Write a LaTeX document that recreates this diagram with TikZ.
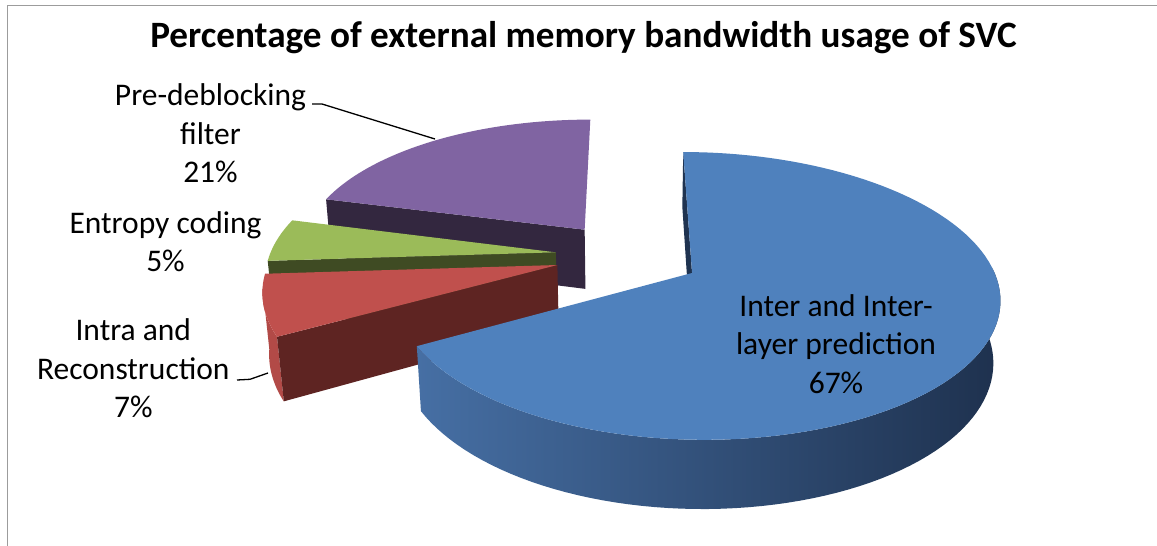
\documentclass[tikz,border=0pt]{standalone}
\usepackage{fontspec}
\setmainfont{Carlito}
\definecolor{bluetop}{HTML}{4F81BD}
\definecolor{blueL}{HTML}{466FA4}
\definecolor{blueR}{HTML}{1E314E}
\definecolor{bluedark}{HTML}{1F3350}
\definecolor{redtop}{HTML}{C0504D}
\definecolor{redrim}{HTML}{B24A47}
\definecolor{redside}{HTML}{5E2422}
\definecolor{greentop}{HTML}{9BBB59}
\definecolor{greenside}{HTML}{3F4B23}
\definecolor{purpletop}{HTML}{8064A2}
\definecolor{purpleside}{HTML}{33273F}
\definecolor{framegray}{HTML}{9C9C9C}
\begin{document}
\begin{tikzpicture}[x=1pt,y=1pt,
  % perspective projection of a point (X,Y,Z) of the pie onto the page
  declare function={
    pden(\ua,\ub,\uc)=5.713+0.8926*\ub-0.4507*\uc;
    psx(\ua,\ub,\uc)=1707.8*\ua/pden(\ua,\ub,\uc);
    imx(\ua,\ub,\uc)=627.9+0.975*psx(\ua,\ub,\uc)+0.39*(psx(\ua,\ub,\uc)/100)^2;
    imy(\ua,\ub,\uc)=(769.7*\ub+1524.4*\uc)/pden(\ua,\ub,\uc)-255.5;
    rimx(\ua,\ub,\uc,\ud)=imx(\ua+cos(\uc),\ub+sin(\uc),\ud);
    rimy(\ua,\ub,\uc,\ud)=imy(\ua+cos(\uc),\ub+sin(\uc),\ud);
  },
  lbl/.style={font=\fontsize{31.5}{38.3}\selectfont, align=center, inner sep=0pt},
  ttl/.style={font=\bfseries\fontsize{37.2}{44}\selectfont, inner sep=0pt},
  leader/.style={draw=black, line width=1.3pt},
  frameline/.style={draw=framegray, line width=1.8pt},
]
\useasboundingbox (0,0) rectangle (1157,-546);
\fill[white] (0,0) rectangle (1157,-546);
\draw[frameline] (7.5,-546) -- (7.5,-5.5) -- (1157,-5.5);

% slice offsets (exploded by a quarter radius along each bisector)
\def\hh{-0.231}
\pgfmathsetmacro\pPx{0.25*cos(127.8)}
\pgfmathsetmacro\pPy{0.25*sin(127.8)}
\pgfmathsetmacro\gGx{0.25*cos(174.6)}
\pgfmathsetmacro\gGy{0.25*sin(174.6)}
\pgfmathsetmacro\rRx{0.25*cos(196.2)}
\pgfmathsetmacro\rRy{0.25*sin(196.2)}
\pgfmathsetmacro\bBx{0.25*cos(-30.6)}
\pgfmathsetmacro\bBy{0.25*sin(-30.6)}

% ---- Pre-deblocking filter (21%)
\fill[purpleside] ({imx(\pPx,\pPy,0)},{imy(\pPx,\pPy,0)})
  -- ({rimx(\pPx,\pPy,165.6,0)},{rimy(\pPx,\pPy,165.6,0)})
  -- ({rimx(\pPx,\pPy,165.6,\hh)},{rimy(\pPx,\pPy,165.6,\hh)})
  -- ({imx(\pPx,\pPy,\hh)},{imy(\pPx,\pPy,\hh)}) -- cycle;
\fill[purpletop] ({imx(\pPx,\pPy,0)},{imy(\pPx,\pPy,0)})
  -- plot[domain=165.6:90,samples=40,variable=\t]
     ({rimx(\pPx,\pPy,\t,0)},{rimy(\pPx,\pPy,\t,0)}) -- cycle;

% ---- Entropy coding (5%)
\fill[greenside] ({imx(\gGx,\gGy,0)},{imy(\gGx,\gGy,0)})
  -- ({rimx(\gGx,\gGy,183.6,0)},{rimy(\gGx,\gGy,183.6,0)})
  -- ({rimx(\gGx,\gGy,183.6,\hh)},{rimy(\gGx,\gGy,183.6,\hh)})
  -- ({imx(\gGx,\gGy,\hh)},{imy(\gGx,\gGy,\hh)}) -- cycle;
\fill[greentop] ({imx(\gGx,\gGy,0)},{imy(\gGx,\gGy,0)})
  -- plot[domain=183.6:165.6,samples=20,variable=\t]
     ({rimx(\gGx,\gGy,\t,0)},{rimy(\gGx,\gGy,\t,0)}) -- cycle;

% ---- Intra and Reconstruction (7%)
\fill[redrim] plot[domain=189:208.8,samples=20,variable=\t]
     ({rimx(\rRx,\rRy,\t,0)},{rimy(\rRx,\rRy,\t,0)})
  -- plot[domain=208.8:189,samples=20,variable=\t]
     ({rimx(\rRx,\rRy,\t,\hh)},{rimy(\rRx,\rRy,\t,\hh)}) -- cycle;
\fill[redside] ({imx(\rRx,\rRy,0)},{imy(\rRx,\rRy,0)})
  -- ({rimx(\rRx,\rRy,208.8,0)},{rimy(\rRx,\rRy,208.8,0)})
  -- ({rimx(\rRx,\rRy,208.8,\hh)},{rimy(\rRx,\rRy,208.8,\hh)})
  -- ({imx(\rRx,\rRy,\hh)},{imy(\rRx,\rRy,\hh)}) -- cycle;
\fill[redtop] ({imx(\rRx,\rRy,0)},{imy(\rRx,\rRy,0)})
  -- plot[domain=208.8:183.6,samples=20,variable=\t]
     ({rimx(\rRx,\rRy,\t,0)},{rimy(\rRx,\rRy,\t,0)}) -- cycle;

% ---- Inter and Inter-layer prediction (67%)
\shade[left color=blueL, right color=blueR]
  plot[domain=-151.2:2,samples=70,variable=\t]
     ({rimx(\bBx,\bBy,\t,0)},{rimy(\bBx,\bBy,\t,0)})
  -- plot[domain=2:-151.2,samples=70,variable=\t]
     ({rimx(\bBx,\bBy,\t,\hh)},{rimy(\bBx,\bBy,\t,\hh)}) -- cycle;
\fill[bluedark] ({imx(\bBx,\bBy,0)},{imy(\bBx,\bBy,0)})
  -- ({rimx(\bBx,\bBy,90,0)},{rimy(\bBx,\bBy,90,0)})
  -- ({rimx(\bBx,\bBy,90,\hh)},{rimy(\bBx,\bBy,90,\hh)})
  -- ({imx(\bBx,\bBy,\hh)},{imy(\bBx,\bBy,\hh)}) -- cycle;
\fill[bluetop] ({imx(\bBx,\bBy,0)},{imy(\bBx,\bBy,0)})
  -- plot[domain=-151.2:90,samples=100,variable=\t]
     ({rimx(\bBx,\bBy,\t,0)},{rimy(\bBx,\bBy,\t,0)}) -- cycle;

% ---- title and labels
\node[ttl] (title) at (583.5,-37.5) {Percentage of external memory bandwidth usage of SVC};
\node[lbl] (pd) at (210.5,-133.3) {Pre-deblocking\\filter\\21\%};
\node[lbl] (ec) at (165.5,-241.7) {Entropy coding\\5\%};
\node[lbl] (ir) at (133.3,-368.3) {Intra and\\Reconstruction\\7\%};
\node[lbl] (il) at (836,-344) {Inter and Inter-\\layer prediction\\67\%};

% leader lines
\coordinate (pdStart) at (312,-104);
\coordinate (pdTip) at (435,-139);
\draw[leader] (pdStart) -- ++(10,0) -- (pdTip);
\coordinate (irStart) at (237,-380);
\coordinate (irTip) at (268,-373);
\draw[leader] (irStart) -- ++(13,0.7) -- (irTip);
\end{tikzpicture}
\end{document}
